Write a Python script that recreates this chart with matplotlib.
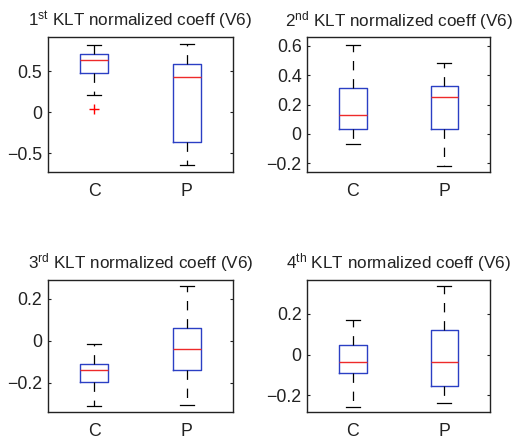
import matplotlib
matplotlib.use("Agg")
import matplotlib.pyplot as plt
from matplotlib.ticker import FuncFormatter

plt.rcParams['font.family'] = ['Liberation Sans', 'DejaVu Sans']
plt.rcParams['mathtext.fontset'] = 'custom'
plt.rcParams['mathtext.rm'] = 'Liberation Sans'
plt.rcParams['mathtext.it'] = 'Liberation Sans:italic'
plt.rcParams['mathtext.bf'] = 'Liberation Sans:bold'

groups = ["C", "P"]
ordinals = ["st", "nd", "rd", "th"]

# five-number summaries per panel: [C, P]
p1_whislo = [0.207, -0.646]
p1_q1 = [0.476, -0.362]
p1_med = [0.641, 0.427]
p1_q3 = [0.707, 0.589]
p1_whishi = [0.824, 0.829]
p1_fliers = [[0.04], []]

p2_whislo = [-0.066, -0.216]
p2_q1 = [0.032, 0.036]
p2_med = [0.132, 0.250]
p2_q3 = [0.316, 0.330]
p2_whishi = [0.609, 0.486]
p2_fliers = [[], []]

p3_whislo = [-0.314, -0.306]
p3_q1 = [-0.199, -0.139]
p3_med = [-0.139, -0.037]
p3_q3 = [-0.110, 0.061]
p3_whishi = [-0.016, 0.263]
p3_fliers = [[], []]

p4_whislo = [-0.257, -0.237]
p4_q1 = [-0.091, -0.155]
p4_med = [-0.036, -0.038]
p4_q3 = [0.046, 0.121]
p4_whishi = [0.172, 0.339]
p4_fliers = [[], []]

ylims = [(-0.724, 0.915), (-0.257, 0.659), (-0.339, 0.292), (-0.282, 0.369)]
yticks = [[-0.5, 0, 0.5], [-0.2, 0, 0.2, 0.4, 0.6], [-0.2, 0, 0.2], [-0.2, 0, 0.2]]

panels = [
    (p1_whislo, p1_q1, p1_med, p1_q3, p1_whishi, p1_fliers),
    (p2_whislo, p2_q1, p2_med, p2_q3, p2_whishi, p2_fliers),
    (p3_whislo, p3_q1, p3_med, p3_q3, p3_whishi, p3_fliers),
    (p4_whislo, p4_q1, p4_med, p4_q3, p4_whishi, p4_fliers),
]

W, H = 515, 441
fig = plt.figure(figsize=(W / 100, H / 100), dpi=100)

rects = [
    (48, 37.3, 233, 171.7),
    (307.3, 37.3, 490, 171.7),
    (48, 279.7, 233, 411.7),
    (307.3, 279.7, 490, 411.7),
]

def fmt(v, pos):
    s = "%g" % round(v, 6)
    return s.replace("-", "\u2212")

box_color = "#2b3fc4"
med_color = "#ee2a2a"

for i, (rect, data) in enumerate(zip(rects, panels)):
    x0, y0, x1, y1 = rect
    ax = fig.add_axes([x0 / W, 1 - y1 / H, (x1 - x0) / W, (y1 - y0) / H])
    wl, q1, md, q3, wh, fl = data
    stats = []
    for j, g in enumerate(groups):
        stats.append(dict(med=md[j], q1=q1[j], q3=q3[j], whislo=wl[j],
                          whishi=wh[j], fliers=fl[j], label=g))
    ax.bxp(stats, positions=[1, 2], widths=0.3, capwidths=0.15,
           showfliers=True,
           boxprops=dict(color=box_color, linewidth=1.0),
           medianprops=dict(color=med_color, linewidth=1.0),
           whiskerprops=dict(color="black", linewidth=0.9, linestyle=(0, (7.5, 7))),
           capprops=dict(color="black", linewidth=0.9),
           flierprops=dict(marker="+", markeredgecolor="red", markersize=7.5,
                           markeredgewidth=1.0, linestyle="none"))
    ax.set_xlim(0.5, 2.5)
    ax.set_ylim(*ylims[i])
    ax.set_yticks(yticks[i])
    ax.yaxis.set_major_formatter(FuncFormatter(fmt))
    ax.tick_params(axis="y", direction="in", length=2.5, width=0.8,
                   left=True, right=True, labelsize=12.8, pad=4, colors="#222222")
    ax.tick_params(axis="x", length=0, labelsize=12.8, pad=8, colors="#222222")
    for sp in ax.spines.values():
        sp.set_linewidth(1.0)
        sp.set_color("#222222")
    ax.set_title("%d$^{\\rm %s}$ KLT normalized coeff (V6)" % (i + 1, ordinals[i]),
                 fontsize=12.3, pad=8, color="#222222")

fig.savefig("out.png", dpi=100)
